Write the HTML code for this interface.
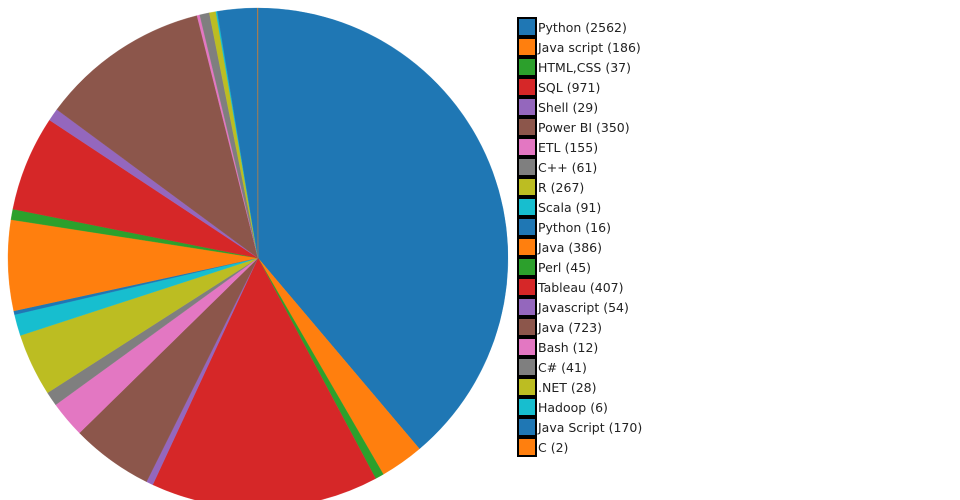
<!DOCTYPE html>
<html><head><meta charset="utf-8">
<style>
html,body{margin:0;padding:0;background:#fff;width:960px;height:500px;overflow:hidden}
svg{display:block}
text{font-family:"DejaVu Sans","Liberation Sans",sans-serif;font-size:12.5px;fill:#222}
</style></head>
<body>
<svg id="s" width="960" height="500" xmlns="http://www.w3.org/2000/svg"></svg>
<script>
const data=[["Python",2562],["Java script",186],["HTML,CSS",37],["SQL",971],["Shell",29],["Power BI",350],["ETL",155],["C++",61],["R",267],["Scala",91],["Python",16],["Java",386],["Perl",45],["Tableau",407],["Javascript",54],["Java",723],["Bash",12],["C#",41],[".NET",28],["Hadoop",6],["Java Script",170],["C",2]];
const cols=["#1f77b4","#ff7f0e","#2ca02c","#d62728","#9467bd","#8c564b","#e377c2","#7f7f7f","#bcbd22","#17becf"];
const tot=data.reduce((a,d)=>a+d[1],0);
const cx=258,cy=258,r=250;let a=0,h="";
data.forEach((d,i)=>{const a2=a+d[1]/tot*2*Math.PI;
const x1=cx+r*Math.sin(a),y1=cy-r*Math.cos(a),x2=cx+r*Math.sin(a2),y2=cy-r*Math.cos(a2);
h+=`<path d="M${cx},${cy}L${x1},${y1}A${r},${r} 0 ${a2-a>Math.PI?1:0} 1 ${x2},${y2}Z" fill="${cols[i%10]}" stroke="${cols[i%10]}" stroke-width="0.3"/>`;a=a2;
const y=18+i*20;
h+=`<rect x="518" y="${y}" width="18" height="18" fill="${cols[i%10]}" stroke="#000" stroke-width="2"/><text x="538" y="${y+14}">${d[0]} (${d[1]})</text>`;});
document.getElementById("s").innerHTML=h;
</script>
</body></html>
